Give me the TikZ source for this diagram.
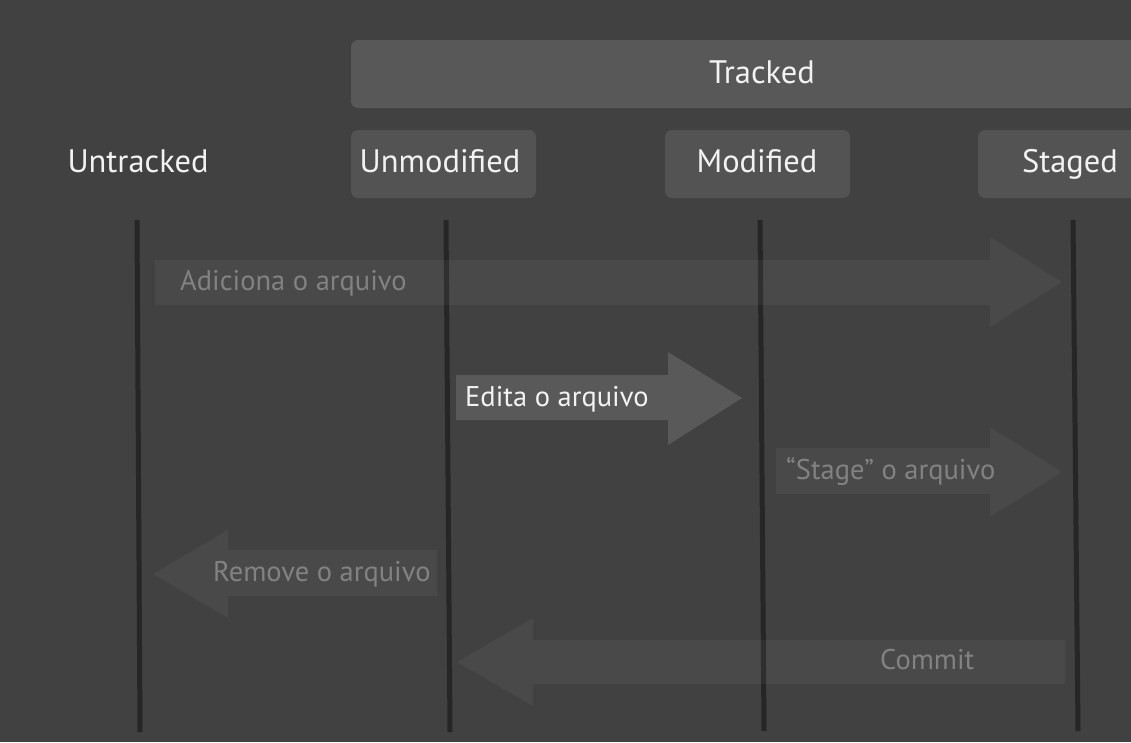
\documentclass[tikz,border=0pt]{standalone}
\usepackage{fontspec}
\setmainfont{PT Sans}
\definecolor{bg}{HTML}{414141}
\definecolor{barc}{HTML}{585858}
\definecolor{boxc}{HTML}{535353}
\definecolor{linec}{HTML}{262626}
\definecolor{fainttext}{HTML}{828282}
\definecolor{labtext}{HTML}{F2F2F2}
\begin{document}
\begin{tikzpicture}[x=1pt,y=-1pt,
  statebox/.style={fill=boxc,rounded corners=7pt,draw=none},
  statelabel/.style={text=labtext,font=\fontsize{32.5}{38}\selectfont,inner sep=0pt,anchor=base},
  arrowlabel/.style={text=fainttext,font=\fontsize{28.5}{34}\selectfont,inner sep=0pt,anchor=base west},
  faintarrow/.style={fill=white,fill opacity=0.045,draw=none},
  brightarrow/.style={fill=white,fill opacity=0.13,draw=none},
  lifeline/.style={draw=linec,line width=5pt}]
\fill[bg] (0,0) rectangle (1131,742);
\useasboundingbox (0,0) rectangle (1131,742);
% boxes
\fill[statebox,fill=barc] (351,40) rectangle (1145,108);
\fill[statebox] (351,130) rectangle (536,198);
\fill[statebox] (665,130) rectangle (850,198);
\fill[statebox] (978,130) rectangle (1145,198);
% labels
\node[statelabel] (tracked) at (762,83) {Tracked};
\node[statelabel] (untracked) at (138,172) {Untracked};
\node[statelabel] (unmod) at (440,172) {Unmodified};
\node[statelabel] (mod) at (757,172) {Modified};
\node[statelabel] (staged) at (1070,172) {Staged};
% lifelines
\coordinate (l1t) at (137,220); \coordinate (l1b) at (140,732);
\coordinate (l2t) at (446,220); \coordinate (l2b) at (450,732);
\coordinate (l3t) at (760,220); \coordinate (l3b) at (764,731);
\coordinate (l4t) at (1073,220); \coordinate (l4b) at (1078,731);
\draw[lifeline] (l1t) -- (l1b);
\draw[lifeline] (l2t) -- (l2b);
\draw[lifeline] (l3t) -- (l3b);
\draw[lifeline] (l4t) -- (l4b);
% Adiciona arrow
\fill[faintarrow] (155,260) -- (990,260) -- (990,237) -- (1062,282) -- (990,327) -- (990,305) -- (155,305) -- cycle;
\node[arrowlabel] (adiciona) at (180,290) {Adiciona o arquivo};
% Edita arrow
\fill[brightarrow] (456,375) -- (668,375) -- (668,352) -- (742,398) -- (668,445) -- (668,420) -- (456,420) -- cycle;
\node[arrowlabel,text=labtext] (edita) at (465,406) {Edita o arquivo};
% Stage arrow
\fill[faintarrow] (776,448) -- (990,448) -- (990,427) -- (1062,472) -- (990,517) -- (990,494) -- (776,494) -- cycle;
\node[arrowlabel] (stage) at (786,479) {“Stage” o arquivo};
% Remove arrow
\fill[faintarrow] (437,550) -- (228,550) -- (228,530) -- (153,574) -- (228,618) -- (228,596) -- (437,596) -- cycle;
\node[arrowlabel] (remove) at (213,581) {Remove o arquivo};
% Commit arrow
\fill[faintarrow] (1065,640) -- (533,640) -- (533,618) -- (457,662) -- (533,706) -- (533,684) -- (1065,684) -- cycle;
\node[arrowlabel] (commit) at (880,669) {Commit};
\end{tikzpicture}
\end{document}
